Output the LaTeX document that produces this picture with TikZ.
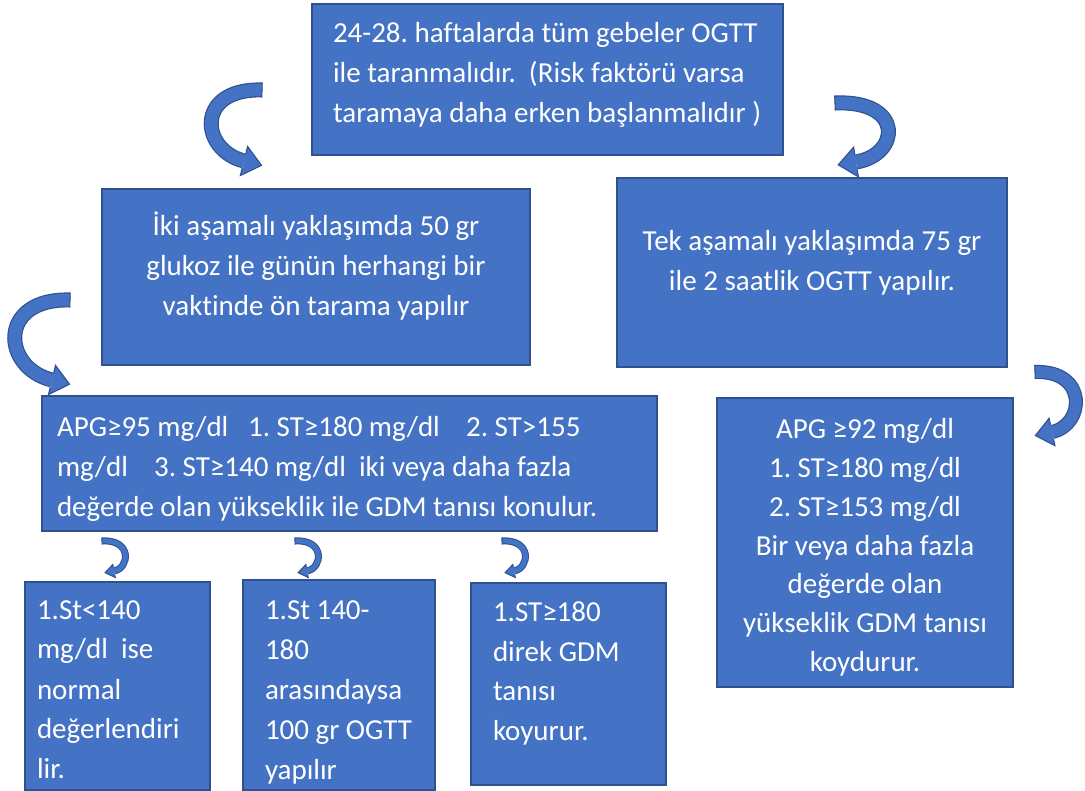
\documentclass[tikz,border=0pt]{standalone}
\usepackage{fontspec}
\setmainfont{Carlito}[Ligatures=NoCommon]
\usetikzlibrary{calc}
\frenchspacing
\definecolor{boxfill}{HTML}{4472C4}
\definecolor{boxedge}{HTML}{2F528F}
\definecolor{arrfill}{HTML}{4472C4}
\tikzset{
  box/.style={draw=boxedge, line width=1.5pt, fill=boxfill, inner sep=0pt, outer sep=0pt,
    anchor=north west, text=white, font=\fontsize{29}{40}\selectfont},
  arredge/.style={draw=boxedge, line width=1.1pt, line join=miter},
}
\newcommand\tstrut{\rule{0pt}{28pt}}
\newcommand\boxtxt[5]{%
  \parbox[t][#2][t]{#1}{\frenchspacing\hbadness=10000\hfuzz=200pt\lineskiplimit=-\maxdimen\parindent=0pt #4\vspace*{#3}\tstrut #5}}
% #1 S, #2 C1, #3 C2, #4 E, #5 outer width, #6 inner width, #7 half outer, #8 head half width, #9 head length
\newcommand\carrow[9]{%
  \draw[line width=#5, draw=boxedge] #1 .. controls #2 and #3 .. #4;
  \draw[line width=#6, draw=arrfill] #1 .. controls #2 and #3 .. #4;
  \draw[arredge] ($#1!#7!90:#2$) -- ($#1!#7!-90:#2$);
  \fill[arrfill] ($#4!#8!90:#3$) -- ($#4!-#9!#3$) -- ($#4!#8!-90:#3$) -- cycle;
  \draw[arredge] ($#4!#7!90:#3$) -- ($#4!#8!90:#3$) -- ($#4!-#9!#3$) -- ($#4!#8!-90:#3$) -- ($#4!#7!-90:#3$);
}
\begin{document}
\begin{tikzpicture}[x=1pt,y=-1pt]
\useasboundingbox (0,0) rectangle (1085,791);

\node[box] (top) at (312,4) {\boxtxt{471pt}{151pt}{11pt}{\raggedright\leftskip=21pt}{24-28. haftalarda tüm gebeler OGTT\\ile taranmalıdır.\ \ (Risk faktörü varsa\\taramaya daha erken başlanmalıdır )}};

\node[box] (two) at (102,189) {\boxtxt{428pt}{176pt}{19pt}{\centering}{İki aşamalı yaklaşımda 50 gr\\glukoz ile günün herhangi bir\\vaktinde ön tarama yapılır}};

\node[box] (one) at (617,178) {\boxtxt{390pt}{189pt}{45pt}{\centering}{Tek aşamalı yaklaşımda 75 gr\\ile 2 saatlik OGTT yapılır.}};

\node[box] (apg) at (42,396) {\boxtxt{615pt}{135pt}{13pt}{\raggedright\leftskip=15pt}{APG≥95 mg/dl\ \ \ 1. ST≥180 mg/dl\ \ \ \ 2. ST>155\\mg/dl\ \ \ \ 3. ST≥140 mg/dl\ \ iki veya daha fazla\\değerde olan yükseklik ile GDM tanısı konulur.}};

\node[box] (crit) at (717,398) {\boxtxt{296pt}{289pt}{13pt}{\centering\fontsize{29}{38.7}\selectfont}{APG ≥92 mg/dl\\1. ST≥180 mg/dl\\2. ST≥153 mg/dl\\Bir veya daha fazla\\değerde olan\\yükseklik GDM tanısı\\koydurur.}};

\node[box] (b1) at (25,582) {\boxtxt{185pt}{208pt}{9pt}{\raggedright\leftskip=12pt}{1.St<140\\mg/dl\ \ ise\\normal\\değerlendiri\\lir.}};

\node[box] (b2) at (243,580) {\boxtxt{192pt}{210pt}{11pt}{\raggedright\leftskip=22pt}{1.St 140-\\180\\arasındaysa\\100 gr OGTT\\yapılır}};

\node[box] (b3) at (471,583) {\boxtxt{195pt}{202pt}{10pt}{\raggedright\leftskip=22pt}{1.ST≥180\\direk GDM\\tanısı\\koyurur.}};

% curved arrows
\carrow{(262,90)}{(195,88)}{(200,150)}{(244,161)}{15pt}{12.6pt}{7.5pt}{15pt}{18pt}
\carrow{(835,103)}{(905,100)}{(900,155)}{(856,162)}{15pt}{12.6pt}{7.5pt}{15pt}{18pt}
\carrow{(70,300)}{(-3,298)}{(2,368)}{(52,380)}{15pt}{12.6pt}{7.5pt}{15pt}{18pt}
\carrow{(1035,372)}{(1088,370)}{(1085,425)}{(1052,432)}{14pt}{11.6pt}{7pt}{14pt}{17pt}
\carrow{(102,541)}{(132,539)}{(130,568)}{(114,571)}{7pt}{5pt}{3.5pt}{6.5pt}{9pt}
\carrow{(295,541)}{(325,539)}{(323,568)}{(307,571)}{7pt}{5pt}{3.5pt}{6.5pt}{9pt}
\carrow{(502,541)}{(532,539)}{(530,568)}{(514,571)}{7pt}{5pt}{3.5pt}{6.5pt}{9pt}
\end{tikzpicture}
\end{document}
